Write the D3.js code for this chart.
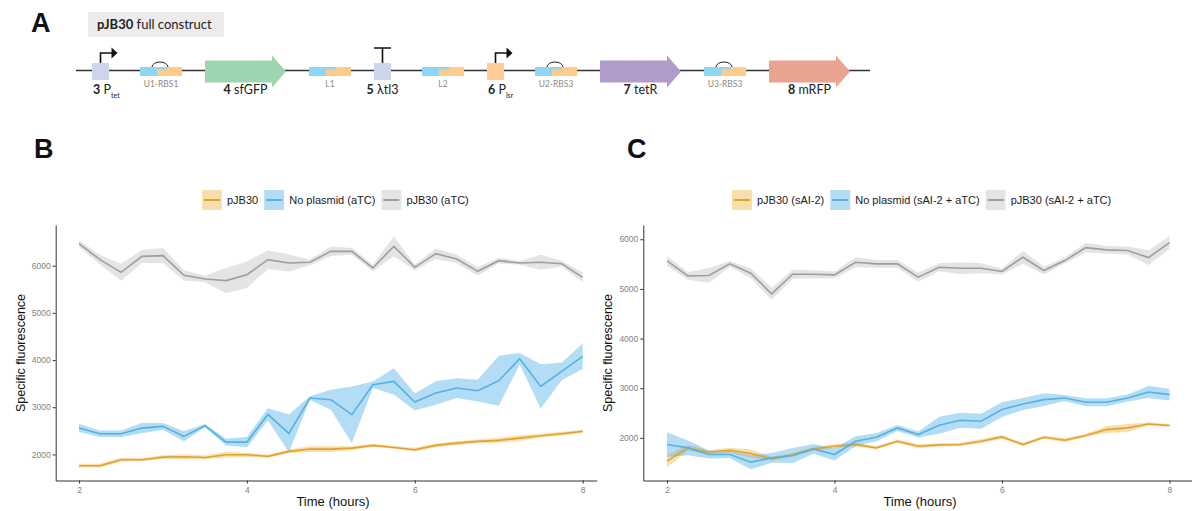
<!DOCTYPE html>
<html>
<head>
<meta charset="utf-8">
<script src="https://cdn.jsdelivr.net/npm/d3@7"></script>
<style>
    body { margin: 0; background: #fff; }
    svg { display: block; font-family: "Liberation Sans", Arial, sans-serif; }
    .panel-letter { font-weight: bold; font-size: 27px; fill: #111; }
    .tick text { fill: #7f7f7f; font-size: 8.5px; }
    .tick line, .domain { stroke: #333; }
    .axis-title { fill: #111; }
    .legend-text { font-size: 11px; fill: #1a1a1a; }
    .part-label { font-family: Lato, "Noto Sans", sans-serif; font-size: 12.5px; fill: #222; }
    .utr-label { font-family: Lato, "Noto Sans", sans-serif; font-size: 8.5px; fill: #8a8a8a; }
</style>
</head>
<body>
<script>
// time points (hours)
var times = [2, 2.25, 2.5, 2.75, 3, 3.25, 3.5, 3.75, 4, 4.25, 4.5, 4.75, 5,
             5.25, 5.5, 5.75, 6, 6.25, 6.5, 6.75, 7, 7.25, 7.5, 7.75, 8];

// panel B
var legendB = ["pJB30", "No plasmid (aTC)", "pJB30 (aTC)"];
var bPjb30 =        [1760, 1760, 1887, 1887, 1943, 1950, 1936, 1993, 1993, 1958, 2064, 2113, 2113,
                     2134, 2191, 2148, 2099, 2191, 2240, 2276, 2297, 2346, 2396, 2438, 2488];
var bPjb30Err =     [40, 40, 40, 30, 40, 50, 40, 60, 40, 30, 40, 60, 60,
                     40, 30, 30, 40, 40, 40, 40, 50, 60, 40, 40, 30];
var bNoPlasmid =    [2558, 2438, 2438, 2558, 2594, 2382, 2608, 2261, 2261, 2846, 2444, 3194, 3159,
                     2841, 3477, 3548, 3110, 3300, 3406, 3350, 3562, 4028, 3442, 3760, 4078];
var bNoPlasmidErr = [85, 70, 70, 110, 70, 110, 35, 70, 110, 130, 400, 40, 210,
                     600, 70, 280, 180, 250, 210, 230, 530, 120, 470, 190, 270];
var bPjb30Atc =     [6466, 6127, 5859, 6198, 6212, 5795, 5717, 5683, 5809, 6127, 6057, 6071, 6304,
                     6304, 5951, 6410, 5965, 6254, 6141, 5880, 6106, 6057, 6071, 6042, 5753];
var bPjb30AtcErr =  [70, 100, 180, 140, 160, 110, 70, 270, 280, 200, 180, 60, 100,
                     70, 70, 210, 60, 110, 90, 90, 60, 40, 160, 60, 100];

// panel C
var legendC = ["pJB30 (sAI-2)", "No plasmid (sAI-2 + aTC)", "pJB30 (sAI-2 + aTC)"];
var cPjb30 =        [1531, 1799, 1712, 1752, 1685, 1578, 1658, 1779, 1832, 1866, 1799, 1933, 1832,
                     1859, 1866, 1933, 2020, 1866, 2013, 1953, 2047, 2167, 2201, 2281, 2248];
var cPjb30Err =     [120, 60, 40, 50, 80, 40, 40, 40, 40, 40, 30, 30, 40,
                     30, 30, 40, 40, 30, 30, 40, 30, 70, 80, 30, 30];
var cNoPlasmid =    [1866, 1799, 1665, 1665, 1511, 1598, 1645, 1779, 1665, 1933, 2013, 2201, 2067,
                     2255, 2355, 2335, 2570, 2683, 2770, 2804, 2717, 2717, 2804, 2925, 2871];
var cNoPlasmidErr = [250, 150, 80, 70, 140, 100, 150, 100, 120, 100, 80, 60, 60,
                     170, 150, 150, 150, 120, 130, 60, 80, 80, 70, 120, 120];
var cPjb30Atc =     [5564, 5263, 5270, 5504, 5317, 4901, 5296, 5296, 5283, 5538, 5504, 5504, 5236,
                     5437, 5417, 5417, 5350, 5638, 5370, 5571, 5832, 5786, 5772, 5631, 5933];
var cPjb30AtcErr =  [100, 80, 150, 60, 100, 120, 90, 80, 70, 100, 80, 80, 90,
                     80, 120, 100, 60, 130, 80, 60, 100, 80, 80, 150, 130];

var yTicks = [2000, 3000, 4000, 5000, 6000];
var xTicks = [2, 4, 6, 8];

// panel A construct
var partTypes = ["promoter", "utr", "cds", "utr", "terminator", "utr", "promoter", "utr", "cds", "utr", "cds"];
var partNums  = ["3", "", "4", "", "5", "", "6", "", "7", "", "8"];
var partNames = ["P", "U1-RBS1", "sfGFP", "L1", "\u03bbtl3", "L2", "P", "U2-RBS3", "tetR", "U3-RBS3", "mRFP"];
var partSubs  = ["tet", "", "", "", "", "", "lsr", "", "", "", ""];

var lineColors   = ["#e3a12f", "#56b0e2", "#9e9e9e"];
var ribbonColors = ["rgba(236,176,60,0.42)", "rgba(86,180,233,0.45)", "rgba(170,170,170,0.32)"];

var svg = d3.select("body").append("svg")
        .attr("width", 1192)
        .attr("height", 511);

// ---------- panel A ----------
function drawConstruct() {
    var g = svg.append("g");
    var cy = 71.5;

    g.append("text").attr("class", "panel-letter").attr("x", 31).attr("y", 32).text("A");

    g.append("rect").attr("x", 88).attr("y", 12).attr("width", 136).attr("height", 25).attr("fill", "#ececec");
    var title = g.append("text").attr("class", "part-label").attr("x", 97).attr("y", 29).style("font-size", "13px");
    title.append("tspan").style("font-weight", "bold").text("pJB30");
    title.append("tspan").text(" full construct");

    g.append("line")
        .attr("x1", 76).attr("x2", 870).attr("y1", 70.5).attr("y2", 70.5)
        .attr("stroke", "#333").attr("stroke-width", 1.3);

    var widths = {promoter: 17, terminator: 17, utr: 42, cds: 81};
    var fills = {P: "#cdd5ea", "\u03bbtl3": "#cdd5ea", sfGFP: "#9cd5b0", tetR: "#b09bcb", mRFP: "#e9a38e"};

    var cursor = 92;
    partTypes.forEach(function(type, i) {
        var x = cursor, w = widths[type], cx = x + w / 2;
        var name = partNames[i];

        if (type === "promoter" || type === "terminator") {
            var fill = partSubs[i] === "lsr" ? "#fdcc9a" : fills.P;
            g.append("rect").attr("x", x).attr("y", cy - 8.5).attr("width", w).attr("height", 17).attr("fill", fill);
            if (type === "promoter") {
                g.append("path")
                    .attr("d", "M" + cx + "," + (cy - 8.5) + "V" + (cy - 18.5) + "H" + (cx + 12))
                    .attr("fill", "none").attr("stroke", "#111").attr("stroke-width", 1.6);
                g.append("path")
                    .attr("d", "M" + (cx + 11) + "," + (cy - 24) + "L" + (cx + 17) + "," + (cy - 18.5) + "L" + (cx + 11) + "," + (cy - 13) + "Z")
                    .attr("fill", "#111");
            } else {
                g.append("path")
                    .attr("d", "M" + cx + "," + (cy - 8.5) + "V" + (cy - 23.5) + "M" + x + "," + (cy - 23.5) + "H" + (x + w))
                    .attr("fill", "none").attr("stroke", "#111").attr("stroke-width", 1.6);
            }
        } else if (type === "utr") {
            g.append("rect").attr("x", x).attr("y", cy - 4.5).attr("width", 27).attr("height", 9).attr("fill", "#8fd6f5");
            g.append("rect").attr("x", x + 17).attr("y", cy - 4.5).attr("width", 25).attr("height", 9).attr("fill", "#fdcb8a");
            g.append("rect").attr("x", x + 17).attr("y", cy - 4.5).attr("width", 10).attr("height", 2.5).attr("fill", "#8fd6f5");
            if (name.indexOf("RBS") >= 0) {
                g.append("path")
                    .attr("d", "M" + (x + 12) + "," + (cy - 4.5) + "A8,5 0 0 1 " + (x + 28) + "," + (cy - 4.5))
                    .attr("fill", "none").attr("stroke", "#222").attr("stroke-width", 1);
            }
            g.append("text").attr("class", "utr-label")
                .attr("x", cx).attr("y", 87).attr("text-anchor", "middle").text(name);
        } else {
            var head = 14;
            g.append("path")
                .attr("d", "M" + x + "," + (cy - 11) + "H" + (x + w - head) + "V" + (cy - 16) +
                    "L" + (x + w) + "," + cy + "L" + (x + w - head) + "," + (cy + 16) +
                    "V" + (cy + 11) + "H" + x + "Z")
                .attr("fill", fills[name]);
        }

        if (type !== "utr") {
            var lab = g.append("text").attr("class", "part-label").attr("y", 94);
            if (partSubs[i]) {
                lab.attr("x", x + 1);
            } else {
                lab.attr("x", cx).attr("text-anchor", "middle");
            }
            lab.append("tspan").style("font-weight", "bold").text(partNums[i]);
            lab.append("tspan").text(" " + name);
            if (partSubs[i]) {
                lab.append("tspan").attr("dy", 4).style("font-size", "7px").text(partSubs[i]);
            }
        }

        cursor = x + w + (w === 17 ? 31 : 23);
    });
}

// ---------- panels B and C ----------
function drawPanel(cfg) {
    var g = svg.append("g");

    g.append("text").attr("class", "panel-letter").attr("x", cfg.letterX).attr("y", 158).text(cfg.letter);

    var x = d3.scaleLinear().domain(cfg.xDomain).range(cfg.xRange);
    var y = d3.scaleLinear().domain(cfg.yDomain).range([480.5, 225]);

    var area = d3.area()
            .x(function(d) { return x(d.t); })
            .y0(function(d) { return y(d.v - d.e); })
            .y1(function(d) { return y(d.v + d.e); });
    var line = d3.line()
            .x(function(d) { return x(d.t); })
            .y(function(d) { return y(d.v); });

    var series = cfg.values.map(function(vals, k) {
        return times.map(function(t, i) {
            return {t: t, v: vals[i], e: cfg.errors[k][i]};
        });
    });

    g.selectAll(".ribbon")
        .data(series)
        .enter().append("path")
        .classed("ribbon", 1)
        .attr("d", area)
        .attr("fill", function(d, i) { return ribbonColors[i]; });

    g.selectAll(".series-line")
        .data(series)
        .enter().append("path")
        .classed("series-line", 1)
        .attr("d", line)
        .attr("fill", "none")
        .attr("stroke", function(d, i) { return lineColors[i]; })
        .attr("stroke-width", 1.6);

    g.append("g")
        .attr("transform", "translate(" + cfg.xRange[0] + ",0)")
        .call(d3.axisLeft(y).tickValues(yTicks).tickFormat(d3.format("d"))
            .tickSize(3).tickSizeOuter(0).tickPadding(2));
    g.append("g")
        .attr("transform", "translate(0,480.5)")
        .call(d3.axisBottom(x).tickValues(xTicks).tickFormat(d3.format("d"))
            .tickSize(3).tickSizeOuter(0).tickPadding(3));

    g.append("text").attr("class", "axis-title")
        .attr("transform", "translate(" + cfg.yTitleX + ",353) rotate(-90)")
        .attr("text-anchor", "middle").style("font-size", "12.5px")
        .text("Specific fluorescence");
    g.append("text").attr("class", "axis-title")
        .attr("x", cfg.xTitleX).attr("y", 506)
        .attr("text-anchor", "middle").style("font-size", "13px")
        .text("Time (hours)");

    // legend
    var lx = cfg.legendX;
    cfg.legend.forEach(function(label, i) {
        var item = g.append("g");
        item.append("rect").attr("x", lx).attr("y", 190).attr("width", 20).attr("height", 20)
            .attr("fill", ribbonColors[i]);
        item.append("line").attr("x1", lx + 2).attr("x2", lx + 18).attr("y1", 200).attr("y2", 200)
            .attr("stroke", lineColors[i]).attr("stroke-width", 2);
        var txt = item.append("text").attr("class", "legend-text")
            .attr("x", lx + 25).attr("y", 204).text(label);
        lx += 25 + txt.node().getComputedTextLength() + 6;
    });
}

drawConstruct();

drawPanel({
    letter: "B", letterX: 34,
    xDomain: [1.722, 8.167], xRange: [55.7, 596.7],
    yDomain: [1447, 6862],
    values: [bPjb30, bNoPlasmid, bPjb30Atc],
    errors: [bPjb30Err, bNoPlasmidErr, bPjb30AtcErr],
    legend: legendB, legendX: 202,
    yTitleX: 25, xTitleX: 333
});

drawPanel({
    letter: "C", letterX: 627,
    xDomain: [1.717, 8.3], xRange: [643.3, 1194.6],
    yDomain: [1142, 6287],
    values: [cPjb30, cNoPlasmid, cPjb30Atc],
    errors: [cPjb30Err, cNoPlasmidErr, cPjb30AtcErr],
    legend: legendC, legendX: 732,
    yTitleX: 612, xTitleX: 920
});
</script>
</body>
</html>
